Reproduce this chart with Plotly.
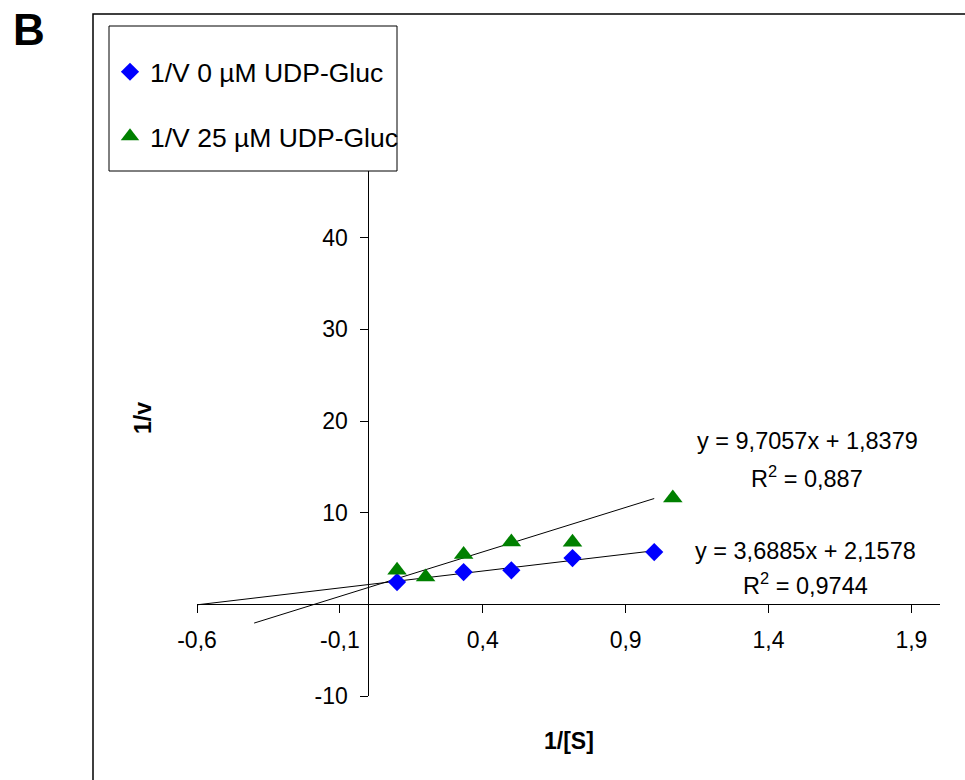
import plotly.graph_objects as go

# ---------------- data ----------------
x_0uM = [0.1, 0.333, 0.5, 0.714, 1.0]
y_0uM = [2.43, 3.52, 3.71, 5.05, 5.70]

x_25uM = [0.1, 0.2, 0.333, 0.5, 0.714, 1.065]
y_25uM = [3.71, 2.98, 5.45, 6.79, 6.76, 11.59]

# trendline coefficients (slope, intercept) and drawn extents
fit_0uM = (3.6885, 2.1578)
fit_25uM = (9.7057, 1.8379)
trend_x_0uM = [-0.6, 1.0]
trend_x_25uM = [-0.4, 1.0]

eq_0uM = ["y = 3,6885x + 2,1578", "R<sup>2</sup> = 0,9744"]
eq_25uM = ["y = 9,7057x + 1,8379", "R<sup>2</sup> = 0,887"]

x_tickvals = [-0.6, -0.1, 0.4, 0.9, 1.4, 1.9]
x_ticktext = ["-0,6", "-0,1", "0,4", "0,9", "1,4", "1,9"]
y_tickvals = [-10, 10, 20, 30, 40]
y_ticktext = ["-10", "10", "20", "30", "40"]

names = ["1/V 0 µM UDP-Gluc", "1/V 25 µM UDP-Gluc"]

FONT = "Liberation Sans, Arial, sans-serif"
X_RANGE = [-0.6, 2.0]
Y_RANGE = [-10, 50]

W, H = 965, 780
L, R, T, B = 197, 25, 146, 84
pw, ph = W - L - R, H - T - B


def px(xp):
    return (xp - L) / pw


def py(yp):
    return (H - B - yp) / ph


fig = go.Figure()

# trendlines
for tx, (m, b) in ((trend_x_0uM, fit_0uM), (trend_x_25uM, fit_25uM)):
    fig.add_trace(go.Scatter(
        x=tx, y=[m * v + b for v in tx], mode="lines",
        line=dict(color="black", width=1), showlegend=False, hoverinfo="skip"))

fig.add_trace(go.Scatter(
    x=x_0uM, y=y_0uM, mode="markers", name=names[0], legendgroup="a",
    marker=dict(symbol="diamond", size=14, color="#0000FF")))
fig.add_trace(go.Scatter(
    x=x_25uM, y=y_25uM, mode="markers", name=names[1], legendgroup="b",
    marker=dict(symbol="triangle-up", size=17, color="#008000")))


def lab(x, y, txt):
    fig.add_annotation(x=x, y=y, xref="x", yref="y", text=txt, showarrow=False,
                       font=dict(family=FONT, size=23.5, color="black"),
                       xanchor="center", yanchor="middle")


lab(1.535, 17.8, eq_25uM[0])
lab(1.535, 13.9, eq_25uM[1])
lab(1.528, 5.8, eq_0uM[0])
lab(1.528, 2.2, eq_0uM[1])

fig.add_annotation(x=px(569), y=py(741), xref="paper", yref="paper", text="<b>1/[S]</b>",
                   showarrow=False, font=dict(family=FONT, size=23, color="black"),
                   xanchor="center", yanchor="middle")
fig.add_annotation(x=px(143), y=py(418), xref="paper", yref="paper", text="<b>1/v</b>",
                   showarrow=False, textangle=-90,
                   font=dict(family=FONT, size=23, color="black"),
                   xanchor="center", yanchor="middle")
fig.add_annotation(x=px(29), y=py(29), xref="paper", yref="paper", text="<b>B</b>",
                   showarrow=False, font=dict(family=FONT, size=44, color="black"),
                   xanchor="center", yanchor="middle")

# outer chart border (extends beyond the page on right and bottom)
fig.add_shape(type="rect", xref="paper", yref="paper",
              x0=px(93), x1=px(1000), y0=py(820), y1=py(14),
              line=dict(color="black", width=1.5), fillcolor="rgba(0,0,0,0)", layer="below")
# legend box
fig.add_shape(type="rect", xref="paper", yref="paper",
              x0=px(109), x1=px(397), y0=py(171), y1=py(26),
              line=dict(color="black", width=1), fillcolor="white", layer="above")

fig.update_layout(
    width=W, height=H,
    margin=dict(l=L, r=R, t=T, b=B, pad=0),
    paper_bgcolor="white", plot_bgcolor="white",
    font=dict(family=FONT, size=23, color="black"),
    xaxis=dict(range=X_RANGE, anchor="free", position=(0 - Y_RANGE[0]) / (Y_RANGE[1] - Y_RANGE[0]),
               showgrid=False, zeroline=False, showline=True, linecolor="black", linewidth=1,
               ticks="outside", ticklen=8, tickcolor="black", tickwidth=1,
               tickvals=x_tickvals, ticktext=x_ticktext, ticklabelstandoff=7,
               tickfont=dict(family=FONT, size=23, color="black")),
    yaxis=dict(range=Y_RANGE, anchor="free", position=(0 - X_RANGE[0]) / (X_RANGE[1] - X_RANGE[0]),
               showgrid=False, zeroline=False, showline=True, linecolor="black", linewidth=1,
               ticks="outside", ticklen=8, tickcolor="black", tickwidth=1,
               tickvals=y_tickvals, ticktext=y_ticktext, ticklabelstandoff=8,
               tickfont=dict(family=FONT, size=23, color="black")),
    legend=dict(x=px(110), y=py(48), xanchor="left", yanchor="top",
                bgcolor="rgba(0,0,0,0)", borderwidth=0,
                font=dict(family=FONT, size=26.5, color="black"),
                tracegroupgap=27, traceorder="grouped"),
    showlegend=True,
)

fig.write_html("out.html")
